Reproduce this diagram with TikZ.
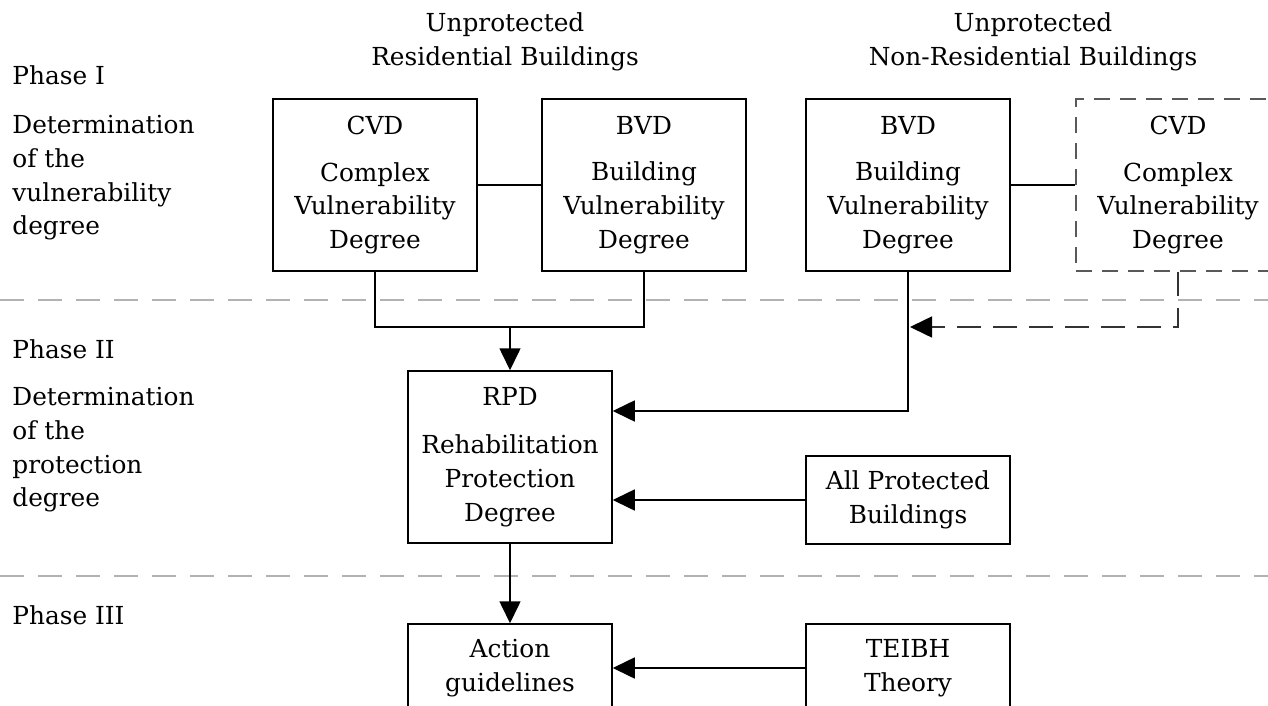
\documentclass[tikz,border=0pt]{standalone}
\usepackage{fontspec}
\setmainfont{DejaVu Serif}
\usetikzlibrary{arrows.meta}
\begin{document}
\begin{tikzpicture}[x=0.5pt,y=-0.5pt,
  every node/.style={font=\fontsize{12.4pt}{16.8pt}\selectfont},
  box/.style={draw, line width=0.75pt, minimum width=102pt, minimum height=86pt, align=center, inner sep=0pt},
  smallbox/.style={box, minimum height=44pt},
  dbox/.style={box, draw=black!65, line width=0.6pt, dash pattern=on 8pt off 5pt},
  lbl/.style={anchor=west, align=left, inner sep=0pt},
  conn/.style={line width=0.8pt},
  arr/.style={conn, -{Triangle[length=11pt,width=10.5pt]}},
  dconn/.style={conn, draw=black!80, dash pattern=on 12pt off 6pt, -{Triangle[length=11pt,width=10.5pt,color=black,fill=black]}},
  sep/.style={draw=black!30, line width=0.6pt, dash pattern=on 12pt off 7pt}
]
\useasboundingbox (0,0) rectangle (1268,706);
\clip (0,0) rectangle (1268,706);

% phase separators
\draw[sep] (0,300) -- (1268,300);
\draw[sep] (0,576) -- (1268,576);

% phase labels
\node[lbl] (p1) at (12,75) {Phase I};
\node[lbl] (p1d) at (12,178) {Determination\\of the\\vulnerability\\degree};
\node[lbl] (p2) at (12,349) {Phase II};
\node[lbl] (p2d) at (12,450) {Determination\\of the\\protection\\degree};
\node[lbl] (p3) at (12,615) {Phase III};

% headers
\node[align=center] (h1) at (505,42) {Unprotected\\Residential Buildings};
\node[align=center] (h2) at (1033,42) {Unprotected\\Non-Residential Buildings};

% boxes
\node[box] (cvd1) at (375,185) {CVD\\[6.5pt]Complex\\Vulnerability\\Degree};
\node[box] (bvd1) at (644,185) {BVD\\[6.5pt]Building\\Vulnerability\\Degree};
\node[box] (bvd2) at (908,185) {BVD\\[6.5pt]Building\\Vulnerability\\Degree};
\node[dbox] (cvd2) at (1178,185) {CVD\\[6.5pt]Complex\\Vulnerability\\Degree};
\node[box] (rpd) at (510,457) {RPD\\[7.5pt]Rehabilitation\\Protection\\Degree};
\node[smallbox] (allp) at (908,500) {All Protected\\Buildings};
\node[smallbox] (act) at (510,668) {Action\\guidelines};
\node[smallbox] (teibh) at (908,668) {TEIBH\\Theory};

% connectors
\coordinate (j1) at (510,327);
\coordinate (k1) at (908,411);
\draw[conn] (cvd1.east) -- (bvd1.west);
\draw[conn] (bvd2.east) -- (cvd2.west);
\draw[conn] (cvd1.south) |- (j1) -| (bvd1.south);
\draw[arr] (j1) -- (rpd.north);
\draw[arr] (bvd2.south) -- (k1) -- (rpd.east |- k1);
\draw[dconn] (cvd2.south) |- ([xshift=1pt]bvd2.south |- j1);
\draw[arr] (allp.west) -- (rpd.east |- allp.west);
\draw[arr] (rpd.south) -- (act.north);
\draw[arr] (teibh.west) -- (act.east);
\end{tikzpicture}
\end{document}
